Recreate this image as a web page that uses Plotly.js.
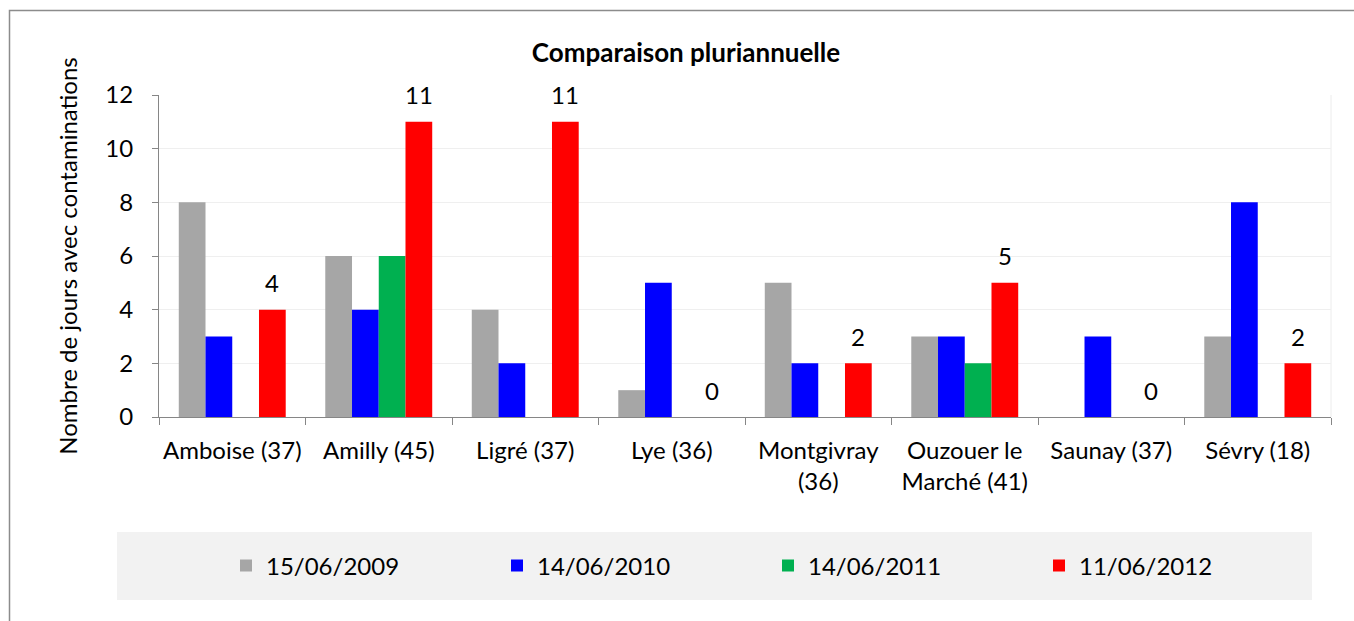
<!DOCTYPE html>
<html>
<head>
<meta charset="utf-8">
<script src="https://cdn.plot.ly/plotly-3.0.1.min.js"></script>
<style>
  html, body { margin: 0; padding: 0; background: #fff; }
  #chart { width: 1354px; height: 621px; }
</style>
</head>
<body>
<div id="chart"></div>
<script>
// ---- data ----
var categories = [
  "Amboise (37)", "Amilly (45)", "Ligré (37)", "Lye (36)",
  "Montgivray<br>(36)", "Ouzouer le<br>Marché (41)", "Saunay (37)", "Sévry (18)"
];
var seriesNames = ["15/06/2009", "14/06/2010", "14/06/2011", "11/06/2012"];
var values2009 = [8, 6, 4, 1, 5, 3, 0, 3];
var values2010 = [3, 4, 2, 5, 2, 3, 3, 8];
var values2011 = [0, 6, 0, 0, 0, 2, 0, 0];
var values2012 = [4, 11, 11, 0, 2, 5, 0, 2];
var yTickValues = [0, 2, 4, 6, 8, 10, 12];

var colors = ["#a6a6a6", "#0000ff", "#00b050", "#ff0000"];
var FONT = "Lato, 'Open Sans', sans-serif";
var FS = 24;
var BARGAP = 0.27;

function barTrace(name, vals, color) {
  return {
    type: "bar",
    name: name,
    x: categories,
    y: vals,
    marker: { color: color, line: { width: 0 } },
    hoverinfo: "none"
  };
}

var allSeries = [values2009, values2010, values2011, values2012];
var data = allSeries.map(function (vals, i) {
  return barTrace(seriesNames[i], vals, colors[i]);
});

var L = 159, R = 1331, T = 95, B = 417;
var pw = R - L, ph = B - T;
function px2x(p) { return (p - L) / pw; }
function px2y(p) { return (B - p) / ph; }

// data labels for the last series, placed over its bars (offset derived from the group geometry)
var nSeries = allSeries.length;
var barW = (pw / categories.length) * (1 - BARGAP) / nSeries;
var lastOffset = barW * ((nSeries - 1) - (nSeries - 1) / 2);
var labelAnnotations = values2012.map(function (v, i) {
  return {
    x: categories[i], y: v, xref: "x", yref: "y",
    text: String(v), showarrow: false,
    xshift: lastOffset, yshift: 27,
    xanchor: "center", yanchor: "middle",
    font: { family: FONT, size: FS, color: "#000" }
  };
});

var layout = {
  width: 1354,
  height: 621,
  margin: { l: L, r: 1354 - R, t: T, b: 621 - B, pad: 0 },
  paper_bgcolor: "#ffffff",
  plot_bgcolor: "#ffffff",
  font: { family: FONT, size: FS, color: "#000" },
  barmode: "group",
  bargap: BARGAP,
  bargroupgap: 0,
  title: {
    text: "<b>Comparaison pluriannuelle</b>",
    font: { family: FONT, size: 26, color: "#000" },
    x: 686 / 1354, xanchor: "center",
    xref: "container",
    y: 1 - 53 / 621, yref: "container", yanchor: "middle"
  },
  xaxis: {
    type: "category",
    showline: true, linecolor: "#868686", linewidth: 1,
    ticks: "outside", ticklen: 7, tickcolor: "#868686", tickwidth: 1,
    tickson: "boundaries",
    tickangle: 0,
    showgrid: false, zeroline: false,
    ticklabelstandoff: 12,
    tickfont: { family: FONT, size: FS, color: "#000" },
    fixedrange: true
  },
  yaxis: {
    range: [0, 12],
    tickvals: yTickValues,
    showline: true, linecolor: "#868686", linewidth: 1,
    ticks: "outside", ticklen: 6, tickcolor: "#868686", tickwidth: 1,
    showgrid: true, gridcolor: "#efefef", gridwidth: 1,
    zeroline: false,
    ticklabelstandoff: 14,
    tickfont: { family: FONT, size: FS, color: "#000" },
    title: {
      text: "Nombre de jours avec contaminations",
      font: { family: FONT, size: FS, color: "#000" },
      standoff: 20
    },
    fixedrange: true
  },
  showlegend: true,
  legend: {
    orientation: "h",
    x: px2x(226), xanchor: "left",
    y: px2y(566), yanchor: "middle",
    bgcolor: "rgba(0,0,0,0)",
    font: { family: FONT, size: FS, color: "#000" },
    entrywidth: 226, entrywidthmode: "pixels",
    traceorder: "normal"
  },
  annotations: labelAnnotations,
  shapes: [
    // legend background panel
    { type: "rect", xref: "paper", yref: "paper", layer: "below",
      x0: px2x(117), x1: px2x(1312), y0: px2y(532), y1: px2y(600),
      fillcolor: "#f2f2f2", line: { width: 0 } },
    // chart outer border
    { type: "rect", xref: "paper", yref: "paper", layer: "below",
      x0: px2x(9.5), x1: px2x(1400), y0: px2y(700), y1: px2y(10.5),
      fillcolor: "rgba(0,0,0,0)", line: { color: "#8c8c8c", width: 1.5 } },
    // plot area right border
    { type: "line", xref: "paper", yref: "paper", layer: "below",
      x0: 1, x1: 1, y0: 0, y1: 1,
      line: { color: "#ececec", width: 1 } }
  ]
};

Plotly.newPlot("chart", data, layout, { displayModeBar: false, staticPlot: true });
</script>
</body>
</html>
